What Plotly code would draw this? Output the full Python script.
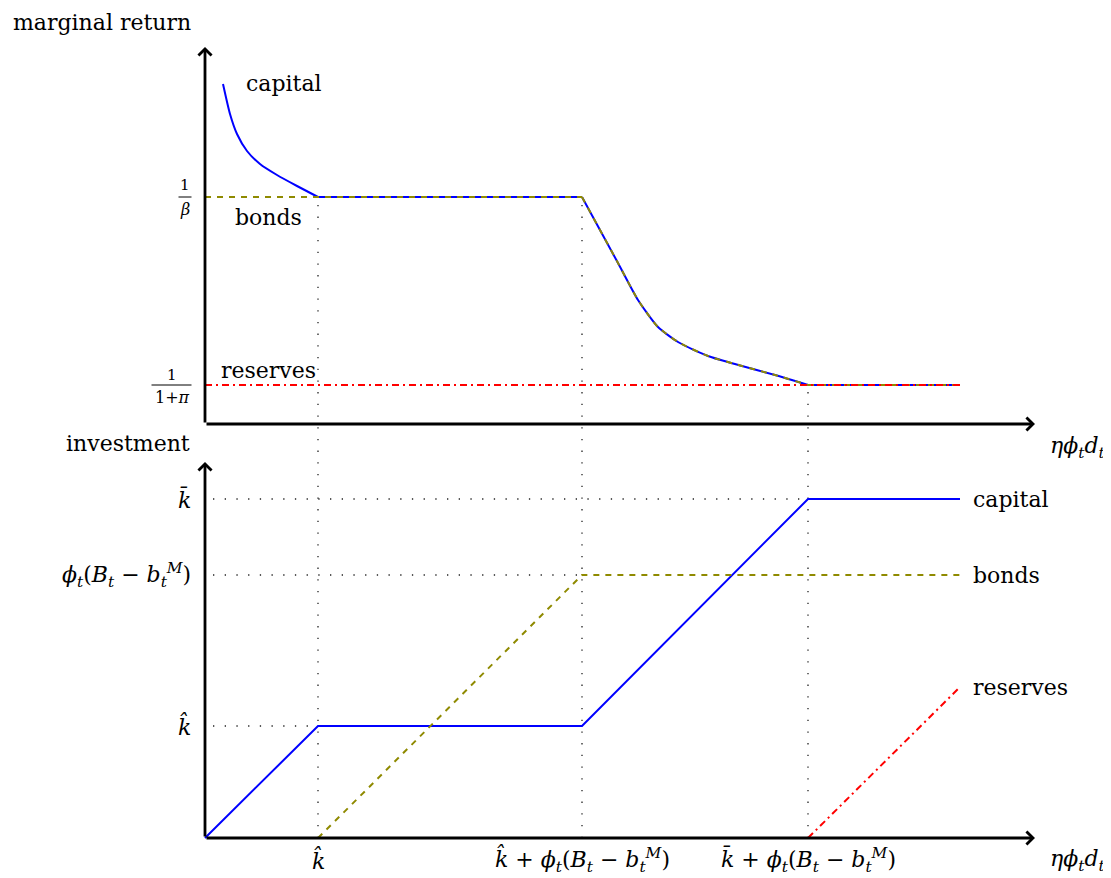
import plotly.graph_objects as go

# ---------------- data (diagram units) ----------------
# key x positions on the eta*phi_t*d_t axis
X_KHAT = 1.13          # k-hat
X_KHAT_PHI = 3.77      # k-hat + phi_t(B_t - b_t^M)
X_KBAR_PHI = 6.03      # k-bar + phi_t(B_t - b_t^M)
X_END = 7.55

# top panel: marginal return
INV_BETA = 2.27        # 1/beta
INV_1PI = 0.39         # 1/(1+pi)
cap_decline_x = [0.18, 0.25, 0.32, 0.42, 0.55, 0.72, 0.92, 1.13]
cap_decline_y = [3.40, 3.10, 2.90, 2.73, 2.60, 2.49, 2.38, 2.27]
decline_x = [3.77, 4.13, 4.33, 4.53, 4.73, 5.03, 5.37, 5.70, 6.03]
decline_y = [2.27, 1.61, 1.24, 0.97, 0.82, 0.68, 0.58, 0.49, 0.39]

# bottom panel: investment
K_HAT = 1.12
PHI_B = 2.63
K_BAR = 3.39
cap_inv_x = [0, 1.13, 3.77, 6.03, 7.55]
cap_inv_y = [0, 1.12, 1.12, 3.39, 3.39]
bond_inv_x = [1.13, 3.77, 7.55]
bond_inv_y = [0, 2.63, 2.63]
res_inv_x = [6.03, 7.55]
res_inv_y = [0, 1.51]

# tick labels
x_tick_vals = [X_KHAT, X_KHAT_PHI, X_KBAR_PHI]
x_tick_text = ["<i>k̂</i>",
               "<i>k̂</i> + <i>ϕ<sub>t</sub></i>(<i>B<sub>t</sub></i> − <i>b<sub>t</sub><sup>M</sup></i>)",
               "<i>k̄</i> + <i>ϕ<sub>t</sub></i>(<i>B<sub>t</sub></i> − <i>b<sub>t</sub><sup>M</sup></i>)"]
y_tick_vals = [K_BAR, PHI_B, K_HAT]
y_tick_text = ["<i>k̄</i>",
               "<i>ϕ<sub>t</sub></i>(<i>B<sub>t</sub></i> − <i>b<sub>t</sub><sup>M</sup></i>)",
               "<i>k̂</i>"]

# ---------------- layout constants ----------------
# (page body has an 8px margin, so the ranges are offset by 8px)
XR = [-1.97, 9.14]
YB = [-0.48, 8.30]      # bottom panel axis
YT = [-4.62, 4.16]      # top panel axis
SHIFT = YB[0] - YT[0]   # top-panel value -> bottom-panel coordinate
X_ARROW = 8.30
YT_ARROW = 3.77
YB_ARROW = 3.76

BLUE = "#0000ff"
OLIVE = "#8f8a00"
RED = "#ff0000"
FONT = "DejaVu Serif"
FS = 22

DASHED = "6px,6px"
DASHDOT = "7px,4px,2px,4px"
DOTTED = "1.3px,10.4px"

fig = go.Figure()


def line(x, y, color, width=2, dash="solid", shape="linear", axis="y"):
    fig.add_trace(go.Scatter(x=x, y=y, mode="lines", yaxis=axis, hoverinfo="skip",
                             line=dict(color=color, width=width, dash=dash, shape=shape,
                                       smoothing=0.6)))


# dotted guide lines (drawn on bottom axis; top values shifted)
line([X_KHAT, X_KHAT], [0, INV_BETA + SHIFT - 0.04], "#222", 1.3, DOTTED)
line([X_KHAT_PHI, X_KHAT_PHI], [0, INV_BETA + SHIFT], "#222", 1.3, DOTTED)
line([X_KBAR_PHI, X_KBAR_PHI], [0, INV_1PI + SHIFT], "#222", 1.3, DOTTED)
line([0.08, X_KHAT], [K_HAT, K_HAT], "#222", 1.3, DOTTED)
line([0.08, X_KHAT_PHI], [PHI_B, PHI_B], "#222", 1.3, DOTTED)
line([0.08, X_KBAR_PHI], [K_BAR, K_BAR], "#222", 1.3, DOTTED)

# top panel
line(cap_decline_x, cap_decline_y, BLUE, 2, shape="spline", axis="y2")
line([X_KHAT, X_KHAT_PHI], [INV_BETA, INV_BETA], BLUE, 2, axis="y2")
line(decline_x, decline_y, BLUE, 2, shape="spline", axis="y2")
line([X_KBAR_PHI, X_END], [INV_1PI, INV_1PI], BLUE, 2, axis="y2")
line([0, X_KHAT_PHI], [INV_BETA, INV_BETA], OLIVE, 2, DASHED, axis="y2")
line(decline_x, decline_y, OLIVE, 2, DASHED, shape="spline", axis="y2")
line([X_KBAR_PHI, X_END], [INV_1PI, INV_1PI], OLIVE, 2, DASHED, axis="y2")
line([0, X_END], [INV_1PI, INV_1PI], RED, 2, DASHDOT, axis="y2")

# bottom panel
line(cap_inv_x, cap_inv_y, BLUE, 2)
line(bond_inv_x, bond_inv_y, OLIVE, 2, DASHED)
line(res_inv_x, res_inv_y, RED, 2, DASHDOT)

ann = []


def text(x, y, s, yref="y", xanchor="center", yanchor="middle", size=FS):
    ann.append(dict(x=x, y=y, xref="x", yref=yref, text=s, showarrow=False,
                    xanchor=xanchor, yanchor=yanchor,
                    font=dict(family=FONT, size=size, color="black")))


def arrow(x, y, yref):
    ann.append(dict(x=x, y=y, ax=0, ay=0, xref="x", yref=yref, axref="x", ayref=yref,
                    text="", showarrow=True, arrowhead=4, arrowsize=0.9,
                    arrowwidth=2.8, arrowcolor="black", standoff=0))


# axes
arrow(X_ARROW, 0, "y2")
arrow(0, YT_ARROW, "y2")
arrow(X_ARROW, 0, "y")
arrow(0, YB_ARROW, "y")

# axis titles
text(-1.03, 4.02, "marginal return", yref="y2")
text(-0.13, 3.95, "investment", yref="y", xanchor="right")
text(8.72, -0.23, "<i>ηϕ<sub>t</sub>d<sub>t</sub></i>", yref="y2")
text(8.72, -0.22, "<i>ηϕ<sub>t</sub>d<sub>t</sub></i>", yref="y")

# series labels
text(0.39, 3.41, "capital", yref="y2", xanchor="left")
text(0.63, 2.07, "bonds", yref="y2")
text(0.63, 0.54, "reserves", yref="y2")
text(7.66, K_BAR, "capital", xanchor="left")
text(7.66, PHI_B, "bonds", xanchor="left")
text(7.66, 1.51, "reserves", xanchor="left")

# tick labels
for v, s in zip(x_tick_vals, x_tick_text):
    text(v, -0.22, s)
for v, s in zip(y_tick_vals, y_tick_text):
    text(-0.12, v, s, xanchor="right")

# fraction tick labels in the top panel
text(-0.20, INV_BETA + 0.12, "1", yref="y2", size=15)
text(-0.20, INV_BETA - 0.12, "<i>β</i>", yref="y2", size=16)
text(-0.33, INV_1PI + 0.10, "1", yref="y2", size=15)
text(-0.33, INV_1PI - 0.12, "1+<i>π</i>", yref="y2", size=16)

fig.update_layout(
    annotations=ann,
    shapes=[
        dict(type="line", xref="x", yref="y2", x0=-0.265, x1=-0.135, y0=INV_BETA, y1=INV_BETA,
             line=dict(color="black", width=1)),
        dict(type="line", xref="x", yref="y2", x0=-0.535, x1=-0.135, y0=INV_1PI, y1=INV_1PI,
             line=dict(color="black", width=1)),
    ],
    width=1111, height=878,
    margin=dict(l=0, r=0, t=0, b=0),
    paper_bgcolor="white", plot_bgcolor="white",
    showlegend=False,
    xaxis=dict(range=XR, visible=False, fixedrange=True),
    yaxis=dict(range=YB, visible=False, fixedrange=True),
    yaxis2=dict(range=YT, visible=False, overlaying="y", fixedrange=True),
)

fig.write_html("out.html")
